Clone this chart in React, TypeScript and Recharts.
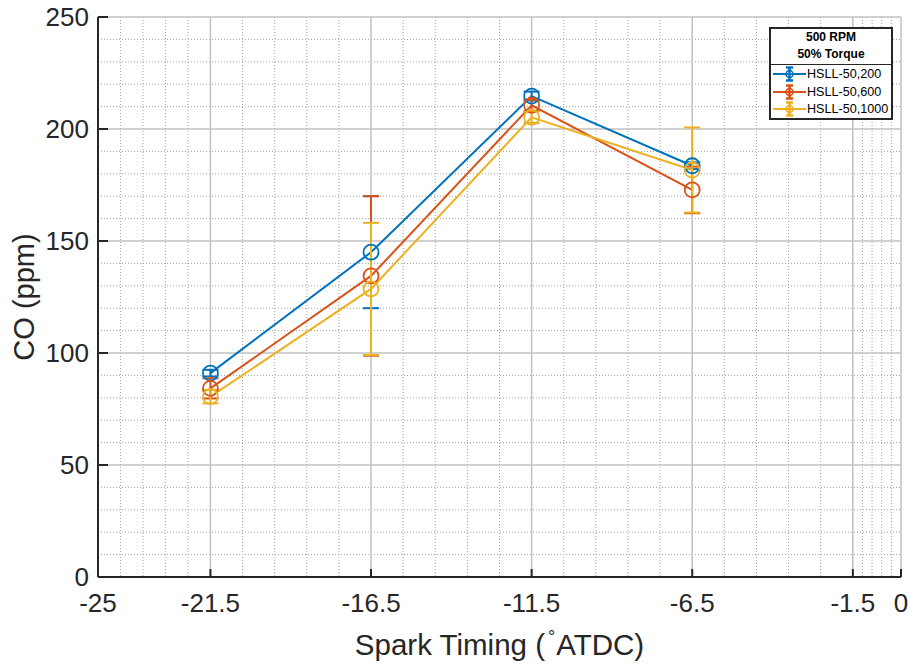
import React from "react";
import { CartesianGrid, ErrorBar, Line, LineChart, XAxis, YAxis } from "recharts";

// spark timing (deg ATDC) and CO readings per series
const timing = [-21.5, -16.5, -11.5, -6.5];
const co200 = [91, 145, 214.7, 183.6];
const co600 = [84.2, 134.4, 210.6, 172.8];
const co1000 = [80.5, 128.6, 205.2, 181.7];
const err200 = [1.5, 25, 2, 1.5];
const err600 = [4.5, 35.6, 2.5, 10.4];
const err1000 = [3, 29.5, 2.5, 19];

const seriesNames = ["HSLL-50,200", "HSLL-50,600", "HSLL-50,1000"];
const legendTitle = ["500 RPM", "50% Torque"];

const xTicks = [-25, -21.5, -16.5, -11.5, -6.5, -1.5, 0];
const yTicks = [0, 50, 100, 150, 200, 250];
const xMinor = [
  -24.3, -23.6, -22.9, -22.2, -20.5, -19.5, -18.5, -17.5, -15.5, -14.5, -13.5,
  -12.5, -10.5, -9.5, -8.5, -7.5, -5.5, -4.5, -3.5, -2.5, -1.2, -0.9, -0.6, -0.3,
];
const yMinor = [
  10, 20, 30, 40, 60, 70, 80, 90, 110, 120, 130, 140, 160, 170, 180, 190, 210,
  220, 230, 240,
];

const colors = ["#0072BD", "#D95319", "#EDB120"];
const axisColor = "#262626";
const font = "'Liberation Sans', Arial, Helvetica, sans-serif";

const data = timing.map((t, i) => ({
  t,
  co200: co200[i],
  e200: err200[i],
  co600: co600[i],
  e600: err600[i],
  co1000: co1000[i],
  e1000: err1000[i],
}));

const series = [
  { key: "co200", err: "e200" },
  { key: "co600", err: "e600" },
  { key: "co1000", err: "e1000" },
];

const BottomTick = (p: any) => (
  <g>
    <line x1={p.x} x2={p.x} y1={p.y} y2={p.y - 8} stroke={axisColor} strokeWidth={2} />
    <text x={p.x} y={p.y + 35} textAnchor="middle" fontSize={26} fill={axisColor} fontFamily={font}>
      {p.payload.value}
    </text>
  </g>
);

const TopTick = (p: any) => (
  <line x1={p.x} x2={p.x} y1={p.y} y2={p.y + 8} stroke={axisColor} strokeWidth={2} />
);

const LeftTick = (p: any) => (
  <g>
    <line x1={p.x} x2={p.x + 10} y1={p.y} y2={p.y} stroke={axisColor} strokeWidth={2} />
    <text x={p.x - 9} y={p.y + 9} textAnchor="end" fontSize={26} fill={axisColor} fontFamily={font}>
      {p.payload.value}
    </text>
  </g>
);

const RightTick = (p: any) => (
  <line x1={p.x} x2={p.x - 10} y1={p.y} y2={p.y} stroke={axisColor} strokeWidth={2} />
);

const LegendIcon = ({ color }: { color: string }) => (
  <svg width={33} height={16} style={{ display: "block", flex: "none" }}>
    <line x1={0} x2={33} y1={8} y2={8} stroke={color} strokeWidth={2} />
    <line x1={16.5} x2={16.5} y1={1.5} y2={14.5} stroke={color} strokeWidth={2.5} />
    <line x1={13} x2={20} y1={1.5} y2={1.5} stroke={color} strokeWidth={2.5} />
    <line x1={13} x2={20} y1={14.5} y2={14.5} stroke={color} strokeWidth={2.5} />
    <circle cx={16.5} cy={8} r={3.5} fill="none" stroke={color} strokeWidth={1.5} />
  </svg>
);

export default function App() {
  return (
    <div
      style={{
        position: "absolute",
        left: 0,
        top: 0,
        width: 910,
        height: 666,
        background: "#fff",
        fontFamily: font,
      }}
    >
      <LineChart width={910} height={666} data={data} margin={{ top: 17, right: 9, left: 0, bottom: 0 }}>
        <CartesianGrid
          stroke="#a2a2a2"
          strokeDasharray="1 2"
          verticalValues={xMinor}
          horizontalValues={yMinor}
        />
        <CartesianGrid stroke="#c2c2c2" strokeWidth={1.5} />
        <XAxis
          dataKey="t"
          type="number"
          domain={[-25, 0]}
          ticks={xTicks}
          interval={0}
          allowDataOverflow
          height={89}
          tickSize={0}
          tickMargin={0}
          tickLine={false}
          tick={BottomTick}
          axisLine={{ stroke: axisColor, strokeWidth: 2 }}
          label={{
            content: (props: any) => {
              const vb = props.viewBox;
              return (
                <text
                  x={vb.x + vb.width / 2}
                  y={vb.y + 78}
                  textAnchor="middle"
                  fontSize={29.5}
                  fill={axisColor}
                  fontFamily={font}
                >
                  Spark Timing (
                  <tspan dx={3} dy={-12} fontSize={18}>
                    °
                  </tspan>
                  <tspan dx={1} dy={12}>
                    ATDC)
                  </tspan>
                </text>
              );
            },
          }}
        />
        <XAxis
          xAxisId="top"
          orientation="top"
          type="number"
          dataKey="t"
          domain={[-25, 0]}
          ticks={xTicks}
          interval={0}
          allowDataOverflow
          height={0}
          tickSize={0}
          tickMargin={0}
          tickLine={false}
          tick={TopTick}
          axisLine={{ stroke: axisColor, strokeWidth: 2 }}
        />
        <YAxis
          type="number"
          domain={[0, 250]}
          ticks={yTicks}
          interval={0}
          allowDataOverflow
          width={98}
          tickSize={0}
          tickMargin={0}
          tickLine={false}
          tick={LeftTick}
          axisLine={{ stroke: axisColor, strokeWidth: 2 }}
          label={{
            content: (props: any) => {
              const vb = props.viewBox;
              const cx = vb.x + 34;
              const cy = vb.y + vb.height / 2;
              return (
                <text
                  x={cx}
                  y={cy}
                  transform={`rotate(-90, ${cx}, ${cy})`}
                  textAnchor="middle"
                  fontSize={29}
                  fill={axisColor}
                  fontFamily={font}
                >
                  CO (ppm)
                </text>
              );
            },
          }}
        />
        <YAxis
          yAxisId="right"
          orientation="right"
          type="number"
          domain={[0, 250]}
          ticks={yTicks}
          interval={0}
          allowDataOverflow
          width={0}
          tickSize={0}
          tickMargin={0}
          tickLine={false}
          tick={RightTick}
          axisLine={{ stroke: axisColor, strokeWidth: 2 }}
        />
        {series.map((s, i) => (
          <Line
            key={s.key}
            type="linear"
            dataKey={s.key}
            name={seriesNames[i]}
            stroke={colors[i]}
            strokeWidth={2}
            dot={{ r: 7.5, fill: "none", stroke: colors[i], strokeWidth: 1.8 }}
            activeDot={false}
            isAnimationActive={false}
          >
            <ErrorBar dataKey={s.err} direction="y" width={8} stroke={colors[i]} strokeWidth={2} isAnimationActive={false} />
          </Line>
        ))}
      </LineChart>

      {/* legend box, top right */}
      <div
        style={{
          position: "absolute",
          left: 769,
          top: 27,
          width: 124,
          border: `2px solid ${axisColor}`,
          background: "#fff",
          boxSizing: "border-box",
        }}
      >
        <div
          style={{
            textAlign: "center",
            fontWeight: "bold",
            fontSize: 12,
            lineHeight: "17px",
            padding: "0 0 1px",
            borderBottom: `1.5px solid ${axisColor}`,
            color: "#000",
          }}
        >
          {legendTitle.map((t) => (
            <div key={t}>{t}</div>
          ))}
        </div>
        <div style={{ padding: "0 0 0 2px" }}>
          {seriesNames.map((n, i) => (
            <div key={n} style={{ display: "flex", alignItems: "center", height: 17.7 }}>
              <LegendIcon color={colors[i]} />
              <span style={{ fontSize: 12.6, marginLeft: 1, color: "#000", whiteSpace: "nowrap" }}>{n}</span>
            </div>
          ))}
        </div>
      </div>
    </div>
  );
}
